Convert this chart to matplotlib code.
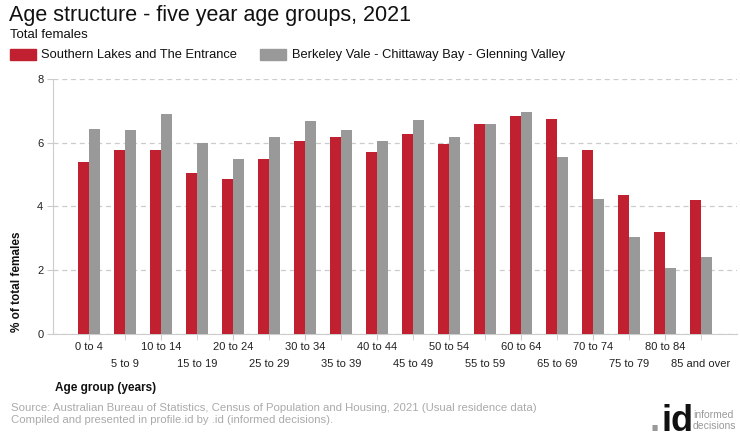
import matplotlib
matplotlib.use("Agg")
import matplotlib.pyplot as plt
import numpy as np
from matplotlib.patches import Rectangle

plt.rcParams['font.family'] = ['Liberation Sans', 'DejaVu Sans']

categories = ["0 to 4", "5 to 9", "10 to 14", "15 to 19", "20 to 24", "25 to 29",
              "30 to 34", "35 to 39", "40 to 44", "45 to 49", "50 to 54", "55 to 59",
              "60 to 64", "65 to 69", "70 to 74", "75 to 79", "80 to 84", "85 and over"]
southern_lakes = [5.41, 5.76, 5.76, 5.04, 4.85, 5.48, 6.07, 6.17, 5.70, 6.29, 5.95, 6.58,
                  6.83, 6.73, 5.76, 4.37, 3.21, 4.19]
berkeley_vale = [6.42, 6.39, 6.89, 5.99, 5.48, 6.17, 6.67, 6.39, 6.07, 6.70, 6.17, 6.58,
                 6.95, 5.54, 4.22, 3.05, 2.08, 2.42]
series_names = ["Southern Lakes and The Entrance", "Berkeley Vale - Chittaway Bay - Glenning Valley"]
yticks = [0, 2, 4, 6, 8]

red = "#C0202F"
grey = "#999999"

W, H = 740, 440
def fx(px):
    return px / W
def fy(py):
    return 1 - py / H

fig = plt.figure(figsize=(7.4, 4.4), dpi=100)
ax = fig.add_axes([fx(53), fy(334), (737 - 53) / W, (334 - 79) / H])

x = np.arange(len(categories))
w = 0.3
ax.bar(x - w / 2, southern_lakes, width=w, color=red, zorder=3)
ax.bar(x + w / 2, berkeley_vale, width=w, color=grey, zorder=3)

ax.set_xlim(-1, 18)
ax.set_ylim(0, 8)
ax.set_yticks(yticks)
ax.set_yticklabels([str(t) for t in yticks], fontsize=8, color="#222222")
ax.yaxis.grid(True, linestyle=(0, (4, 3)), color="#cccccc", linewidth=0.9, zorder=0)

even = x[0::2]
odd = x[1::2]
ax.set_xticks(even)
ax.set_xticklabels(categories[0::2], fontsize=8, color="#222222")
ax.set_xticks(odd, minor=True)
ax.set_xticklabels(categories[1::2], minor=True, fontsize=8, color="#222222")
ax.tick_params(axis='x', which='major', length=4, color="#cccccc", pad=2)
ax.tick_params(axis='x', which='minor', length=4, color="#cccccc", pad=14)
ax.tick_params(axis='y', length=4, color="#cccccc", pad=3)
for s in ["top", "right"]:
    ax.spines[s].set_visible(False)
for s in ["left", "bottom"]:
    ax.spines[s].set_color("#cccccc")

# Titles
fig.text(fx(9), fy(15), "Age structure - five year age groups, 2021", fontsize=15.5,
         va="center", ha="left", color="#111111")
fig.text(fx(10), fy(35), "Total females", fontsize=9.5, va="center", ha="left", color="#111111")

# Legend
fig.patches.append(Rectangle((fx(10), fy(60)), 26 / W, 11 / H, transform=fig.transFigure,
                             color=red, figure=fig))
fig.text(fx(41), fy(55), series_names[0], fontsize=9.3, va="center", ha="left", color="#111111")
fig.patches.append(Rectangle((fx(260), fy(60)), 26 / W, 11 / H, transform=fig.transFigure,
                             color=grey, figure=fig))
fig.text(fx(292), fy(55), series_names[1], fontsize=9.3, va="center", ha="left", color="#111111")

# Axis labels
fig.text(fx(17), fy(332), "% of total females", rotation=90, fontsize=8.5, fontweight="bold",
         ha="center", va="bottom", color="#111111")
fig.text(fx(55), fy(388), "Age group (years)", fontsize=8.5, fontweight="bold",
         ha="left", va="center", color="#111111")

# Source
fig.text(fx(11), fy(408),
         "Source: Australian Bureau of Statistics, Census of Population and Housing, 2021 (Usual residence data)",
         fontsize=8.2, color="#aaaaaa", ha="left", va="center")
fig.text(fx(11), fy(420), "Compiled and presented in profile.id by .id (informed decisions).",
         fontsize=8.2, color="#aaaaaa", ha="left", va="center")

# Logo
fig.text(fx(650), fy(431), ".", fontsize=26, fontweight="bold", color="#999999",
         ha="left", va="baseline")
fig.text(fx(661), fy(431), "id", fontsize=26, fontweight="bold", color="#111111",
         ha="left", va="baseline")
fig.text(fx(693), fy(415), "informed", fontsize=7.5, color="#999999", ha="left", va="center")
fig.text(fx(693), fy(426), "decisions", fontsize=7.5, color="#999999", ha="left", va="center")

fig.savefig("out.png", dpi=100)
